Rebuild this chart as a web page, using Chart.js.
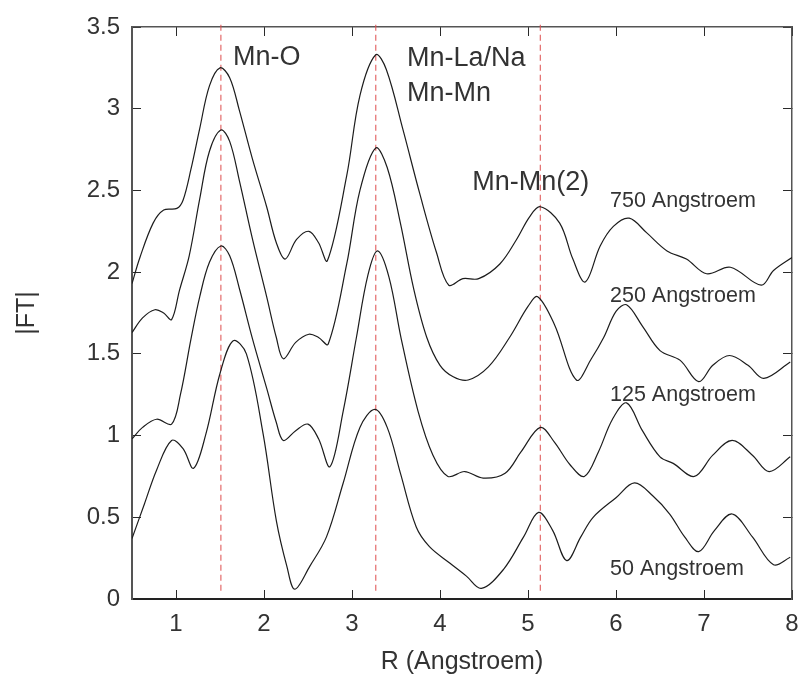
<!DOCTYPE html>
<html>
<head>
<meta charset="utf-8">
<script src="https://cdn.jsdelivr.net/npm/chart.js@4.4.1/dist/chart.umd.min.js"></script>
<style>
    html, body { margin: 0; padding: 0; background: #fff; }
    #wrap { width: 802px; height: 681px; }
</style>
</head>
<body>
<div id="wrap"><canvas id="ftChart" width="802" height="681"></canvas></div>
<script>
// axis ranges and tick values
const xRange = [0.5, 8];
const yRange = [0, 3.5];
const xTicks = [1, 2, 3, 4, 5, 6, 7, 8];
const yTicks = [0, 0.5, 1, 1.5, 2, 2.5, 3, 3.5];

// |FT| curves (R in Angstroem)
const r750 = [0.5, 0.59, 0.74, 0.86, 1.01, 1.08, 1.17, 1.27, 1.38, 1.50, 1.61, 1.72, 1.87, 2.03, 2.14, 2.24, 2.37, 2.51, 2.62, 2.72, 2.94, 3.09, 3.27, 3.39, 3.58, 3.77, 3.96, 4.10, 4.26, 4.44, 4.68, 4.87, 5.02, 5.14, 5.36, 5.51, 5.65, 5.82, 5.97, 6.15, 6.35, 6.58, 6.80, 7.03, 7.30, 7.65, 7.79, 8.0];
const ft750 = [1.93, 2.09, 2.30, 2.38, 2.39, 2.44, 2.63, 2.88, 3.14, 3.25, 3.19, 2.99, 2.69, 2.40, 2.18, 2.08, 2.20, 2.25, 2.18, 2.07, 2.59, 3.08, 3.33, 3.24, 2.87, 2.48, 2.12, 1.92, 1.96, 1.96, 2.05, 2.20, 2.34, 2.40, 2.30, 2.08, 1.94, 2.16, 2.28, 2.33, 2.24, 2.13, 2.08, 1.99, 2.03, 1.92, 2.01, 2.09];

const r250 = [0.5, 0.62, 0.76, 0.86, 0.95, 1.04, 1.15, 1.27, 1.38, 1.51, 1.61, 1.72, 1.87, 2.03, 2.14, 2.22, 2.36, 2.51, 2.62, 2.73, 2.94, 3.09, 3.27, 3.40, 3.55, 3.70, 3.85, 4.0, 4.15, 4.32, 4.55, 4.79, 5.0, 5.11, 5.3, 5.55, 5.72, 5.86, 6.0, 6.12, 6.30, 6.50, 6.73, 6.94, 7.10, 7.29, 7.50, 7.68, 7.98];
const ft250 = [1.63, 1.72, 1.77, 1.75, 1.71, 1.89, 2.10, 2.45, 2.74, 2.87, 2.80, 2.56, 2.20, 1.85, 1.60, 1.47, 1.57, 1.62, 1.60, 1.56, 2.05, 2.50, 2.76, 2.64, 2.30, 1.90, 1.60, 1.43, 1.36, 1.34, 1.42, 1.60, 1.79, 1.85, 1.68, 1.34, 1.47, 1.60, 1.76, 1.80, 1.67, 1.52, 1.46, 1.33, 1.43, 1.49, 1.43, 1.35, 1.45];

const r125 = [0.5, 0.62, 0.78, 0.95, 1.05, 1.17, 1.27, 1.38, 1.51, 1.61, 1.72, 1.87, 2.03, 2.14, 2.22, 2.36, 2.50, 2.62, 2.75, 2.90, 3.05, 3.18, 3.29, 3.42, 3.56, 3.75, 3.92, 4.09, 4.28, 4.49, 4.74, 4.92, 5.14, 5.30, 5.48, 5.64, 5.80, 5.96, 6.12, 6.30, 6.50, 6.65, 6.89, 7.10, 7.32, 7.55, 7.74, 7.98];
const ft125 = [0.98, 1.05, 1.10, 1.07, 1.25, 1.59, 1.85, 2.06, 2.16, 2.10, 1.90, 1.59, 1.29, 1.08, 0.97, 1.03, 1.07, 0.98, 0.81, 1.15, 1.60, 1.98, 2.13, 1.97, 1.59, 1.15, 0.88, 0.75, 0.78, 0.74, 0.77, 0.90, 1.05, 0.96, 0.82, 0.75, 0.90, 1.10, 1.20, 1.03, 0.87, 0.83, 0.75, 0.88, 0.97, 0.88, 0.78, 0.87];

const r50 = [0.5, 0.64, 0.78, 0.95, 1.08, 1.20, 1.34, 1.50, 1.65, 1.80, 1.99, 2.14, 2.26, 2.35, 2.52, 2.71, 2.90, 3.09, 3.26, 3.40, 3.55, 3.73, 3.88, 4.11, 4.30, 4.47, 4.72, 4.95, 5.12, 5.28, 5.44, 5.60, 5.74, 6.0, 6.21, 6.42, 6.61, 6.78, 6.94, 7.12, 7.32, 7.55, 7.79, 7.98];
const ft50 = [0.37, 0.58, 0.79, 0.97, 0.92, 0.80, 1.01, 1.38, 1.58, 1.50, 1.01, 0.48, 0.20, 0.06, 0.20, 0.38, 0.71, 1.05, 1.16, 1.05, 0.77, 0.44, 0.32, 0.22, 0.14, 0.065, 0.18, 0.38, 0.53, 0.42, 0.235, 0.38, 0.50, 0.62, 0.71, 0.63, 0.52, 0.38, 0.29, 0.42, 0.52, 0.38, 0.21, 0.255];

// dashed guide lines (R of the coordination shells)
const shellR = [1.51, 3.27, 5.14];
const shellSpan = [0.05, 3.53];

// text labels, anchored in data units (left, baseline)
const notes = [
    { text: "Mn-O", r: 1.647, ft: 3.27, size: 27 },
    { text: "Mn-La/Na", r: 3.626, ft: 3.26, size: 27 },
    { text: "Mn-Mn", r: 3.626, ft: 3.045, size: 27 },
    { text: "Mn-Mn(2)", r: 4.366, ft: 2.505, size: 27 },
    { text: "750 Angstroem", r: 5.932, ft: 2.396, size: 21.5 },
    { text: "250 Angstroem", r: 5.932, ft: 1.82, size: 21.5 },
    { text: "125 Angstroem", r: 5.932, ft: 1.212, size: 21.5 },
    { text: "50 Angstroem", r: 5.932, ft: 0.147, size: 21.5 }
];

const FONT = '"Liberation Sans", Arial, Helvetica, sans-serif';
const TICK_IN = -9;   // negative tick length -> ticks point into the plot

function toPoints(xs, ys) {
    return xs.map((x, i) => ({ x: x, y: ys[i] }));
}

const curves = [
    { label: "750 Angstroem", r: r750, ft: ft750 },
    { label: "250 Angstroem", r: r250, ft: ft250 },
    { label: "125 Angstroem", r: r125, ft: ft125 },
    { label: "50 Angstroem", r: r50, ft: ft50 }
];

const datasets = curves.map(c => ({
    label: c.label,
    data: toPoints(c.r, c.ft),
    borderColor: "#1c1c1c",
    borderWidth: 1.2,
    pointRadius: 0,
    tension: 0.35,
    fill: false
})).concat(shellR.map(r => ({
    label: "shell " + r,
    data: [{ x: r, y: shellSpan[0] }, { x: r, y: shellSpan[1] }],
    borderColor: "rgba(222,80,80,0.85)",
    borderWidth: 1.2,
    borderDash: [6, 4],
    pointRadius: 0,
    clip: false,
    fill: false
})));

function tickGrid() {
    return { display: true, drawOnChartArea: false, drawTicks: true, tickLength: TICK_IN, tickColor: "#2a2a2a", tickWidth: 1 };
}

const notesPlugin = {
    id: "notes",
    afterDraw(chart) {
        const ctx = chart.ctx;
        const xs = chart.scales.x;
        const ys = chart.scales.y;
        ctx.save();
        ctx.fillStyle = "#333";
        ctx.textAlign = "left";
        ctx.textBaseline = "alphabetic";
        notes.forEach(n => {
            ctx.font = n.size + "px " + FONT;
            ctx.fillText(n.text, xs.getPixelForValue(n.r), ys.getPixelForValue(n.ft));
        });
        ctx.restore();
    }
};

document.addEventListener("DOMContentLoaded", () => {
    const ctx = document.getElementById("ftChart").getContext("2d");
    new Chart(ctx, {
        type: "line",
        data: { datasets: datasets },
        options: {
            responsive: false,
            animation: false,
            devicePixelRatio: 1,
            layout: { padding: { top: 27, right: 10, bottom: 0, left: 0 } },
            plugins: { legend: { display: false }, tooltip: { enabled: false } },
            scales: {
                x: {
                    type: "linear",
                    position: "bottom",
                    min: xRange[0],
                    max: xRange[1],
                    grid: tickGrid(),
                    border: { display: true, color: "#222222", width: 2 },
                    afterBuildTicks: s => { s.ticks = xTicks.map(v => ({ value: v })); },
                    afterFit: s => { s.height = 82; s.paddingLeft = 0; s.paddingRight = 0; },
                    ticks: { color: "#333", font: { family: FONT, size: 24 }, padding: 11 - TICK_IN, maxRotation: 0, callback: v => String(v) },
                    title: { display: true, text: "R (Angstroem)", color: "#333", font: { family: FONT, size: 25 }, padding: { top: 0, bottom: 4 } }
                },
                x2: {
                    type: "linear",
                    position: "top",
                    display: true,
                    min: xRange[0],
                    max: xRange[1],
                    grid: tickGrid(),
                    border: { display: true, color: "#555555", width: 1.5 },
                    afterBuildTicks: s => { s.ticks = xTicks.map(v => ({ value: v })); },
                    afterFit: s => { s.height = 0; s.paddingLeft = 0; s.paddingRight = 0; },
                    ticks: { display: false }
                },
                y: {
                    type: "linear",
                    position: "left",
                    min: yRange[0],
                    max: yRange[1],
                    grid: tickGrid(),
                    border: { display: true, color: "#555555", width: 2 },
                    afterBuildTicks: s => { s.ticks = yTicks.map(v => ({ value: v })); },
                    afterFit: s => { s.width = 132; s.paddingTop = 0; s.paddingBottom = 0; },
                    ticks: { color: "#333", font: { family: FONT, size: 24 }, padding: 12 - TICK_IN, callback: v => String(v) },
                    title: { display: true, text: "|FT|", color: "#333", font: { family: FONT, size: 25 }, padding: { top: 12, bottom: 0 } }
                },
                y2: {
                    type: "linear",
                    position: "right",
                    display: true,
                    min: yRange[0],
                    max: yRange[1],
                    grid: tickGrid(),
                    border: { display: true, color: "#555555", width: 1.5 },
                    afterBuildTicks: s => { s.ticks = yTicks.map(v => ({ value: v })); },
                    afterFit: s => { s.width = 0; s.paddingTop = 0; s.paddingBottom = 0; },
                    ticks: { display: false }
                }
            }
        },
        plugins: [notesPlugin]
    });
});
</script>
</body>
</html>
